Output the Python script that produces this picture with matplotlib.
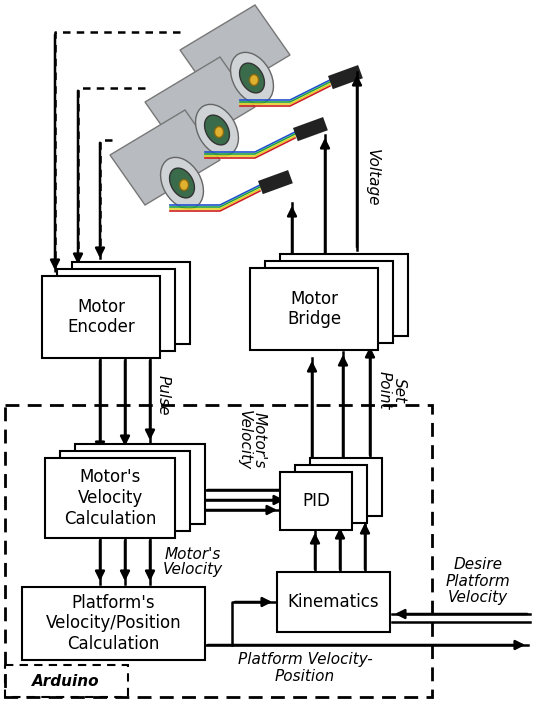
import matplotlib.pyplot as plt
from matplotlib.patches import Rectangle, Polygon, Ellipse

# block diagram content (pixel coordinates of the reference)
stacks = {"Motor\nEncoder": (42, 276, 118, 82, 3),
          "Motor\nBridge": (250, 268, 128, 82, 3),
          "Motor's\nVelocity\nCalculation": (45, 458, 130, 80, 3),
          "PID": (280, 472, 72, 58, 3)}
singles = {"Kinematics": (277, 572, 113, 60),
           "Platform's\nVelocity/Position\nCalculation": (22, 587, 183, 73)}
motors = [(180, 0), (145, 52), (110, 105)]

fig = plt.figure(figsize=(5.41, 7.16), dpi=100)
ax = fig.add_axes([0, 0, 1, 1])
ax.set_xlim(0, 541)
ax.set_ylim(716, 0)
ax.axis("off")

def motor(x, y):
    body = Polygon([(x, y + 50), (x + 75, y + 5), (x + 110, y + 55), (x + 35, y + 100)],
                   closed=True, fc="#b8bcc0", ec="#777", lw=1, zorder=2)
    ax.add_patch(body)
    ax.add_patch(Ellipse((x + 72, y + 78), 38, 55, angle=-30, fc="#d0d3d6", ec="#666", zorder=3))
    ax.add_patch(Ellipse((x + 72, y + 78), 22, 32, angle=-30, fc="#3a6b4a", ec="#333", zorder=4))
    ax.add_patch(Ellipse((x + 74, y + 80), 9, 11, fc="#e0b030", ec="#8a6a10", zorder=5))
    for i, c in enumerate(["#2050d0", "#20a040", "#e0d020", "#d02020"]):
        ax.plot([x + 60, x + 110, x + 150], [y + 100 + i * 2, y + 100 + i * 2, y + 80 + i * 2],
                color=c, lw=1.2, zorder=3)
    ax.add_patch(Rectangle((x + 148, y + 76), 32, 14, angle=-20, fc="#222", zorder=4))

for mx, my in motors:
    motor(mx, my)

for label, (x, y, w, h, n) in stacks.items():
    for k in range(n - 1, -1, -1):
        ax.add_patch(Rectangle((x + 15 * k, y - 7 * k), w, h, fc="white", ec="black", lw=1.5, zorder=6))
    ax.text(x + w / 2, y + h / 2, label, ha="center", va="center", fontsize=12, zorder=7)
for label, (x, y, w, h) in singles.items():
    ax.add_patch(Rectangle((x, y), w, h, fc="white", ec="black", lw=1.5, zorder=6))
    ax.text(x + w / 2, y + h / 2, label, ha="center", va="center", fontsize=12, zorder=7)

ax.add_patch(Rectangle((5, 405), 427, 292, fill=False, ec="black", lw=2, ls=(0, (5, 3)), zorder=1))
ax.add_patch(Rectangle((5, 665), 123, 32, fill=False, ec="black", lw=1.5, ls=(0, (4, 3)), zorder=1))
ax.text(66, 681, "Arduino", ha="center", va="center", fontsize=11, style="italic", weight="bold")

def arrow(pts, ls="-", z=5.5):
    xs, ys = zip(*pts)
    ax.plot(xs, ys, color="black", lw=1.8, ls=ls, zorder=z)
    ax.annotate("", xy=pts[-1], xytext=pts[-2],
                arrowprops=dict(arrowstyle="-|>", color="black", lw=1.8, mutation_scale=14), zorder=z)

for p in [[(180, 32), (55, 32), (55, 273)], [(145, 88), (78, 88), (78, 267)], [(112, 140), (100, 140), (100, 261)]]:
    arrow(p, ls=(0, (3, 2.5)), z=1.5)
for x, y0, y1 in [(292, 262, 203), (325, 256, 135), (357, 250, 72)]:
    arrow([(x, y0), (x, y1)])
for x, y0, y1 in [(100, 358, 455), (125, 358, 449), (150, 358, 443)]:
    arrow([(x, y0), (x, y1)])
for y, x0, x1 in [(490, 205, 295), (500, 190, 287), (510, 175, 280)]:
    arrow([(x0, y), (x1, y)])
for x, y0, y1 in [(312, 472, 358), (343, 465, 352), (370, 458, 344)]:
    arrow([(x, y0), (x, y1)])
for x, y0, y1 in [(100, 538, 584), (125, 538, 584), (150, 538, 584)]:
    arrow([(x, y0), (x, y1)])
for x, y0, y1 in [(315, 572, 530), (340, 572, 525), (365, 572, 520)]:
    arrow([(x, y0), (x, y1)])
arrow([(530, 614), (392, 614)])
ax.plot([392, 530], [622, 622], color="black", lw=1.8)
arrow([(205, 645), (528, 645)])
arrow([(232, 645), (232, 602), (275, 602)])

it = dict(style="italic", fontsize=11, zorder=10)
ax.text(372, 178, "Voltage", rotation=-90, ha="center", va="center", **it)
ax.text(163, 395, "Pulse", rotation=-90, ha="center", va="center", **it)
ax.text(252, 440, "Motor's\nVelocity", rotation=-90, ha="center", va="center", linespacing=1.0, **it)
ax.text(392, 390, "Set\nPoint", rotation=-90, ha="center", va="center", linespacing=1.0, **it)
ax.text(193, 562, "Motor's\nVelocity", ha="center", va="center", linespacing=1.0, **it)
ax.text(478, 581, "Desire\nPlatform\nVelocity", ha="center", va="center", linespacing=1.1, **it)
ax.text(305, 668, "Platform Velocity-\nPosition", ha="center", va="center", linespacing=1.1, **it)

fig.savefig("out.png", dpi=100)
